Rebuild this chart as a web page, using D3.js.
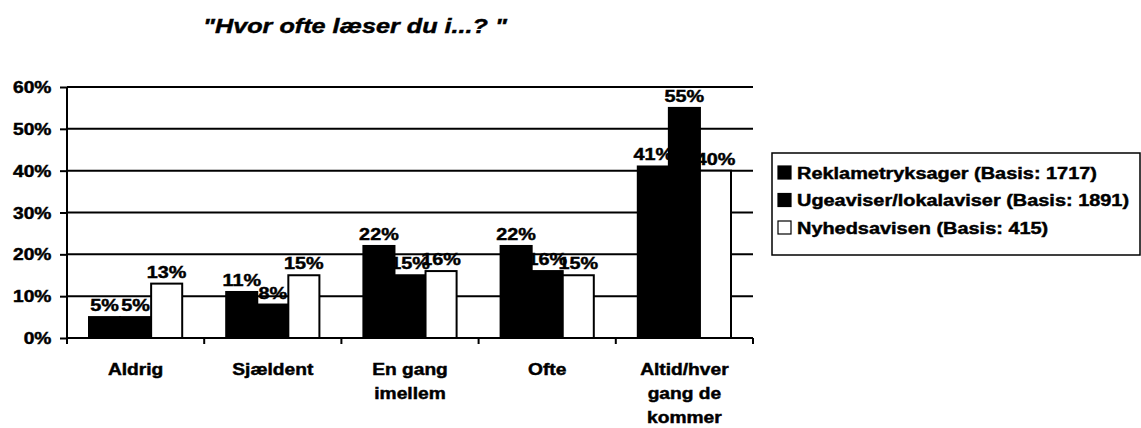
<!DOCTYPE html>
<html>
<head>
<meta charset="utf-8">
<script src="https://cdn.jsdelivr.net/npm/d3@7"></script>
<style>
  body { margin: 0; background: #fff; }
  svg { display: block; font-family: "Liberation Sans", Arial, sans-serif; font-weight: bold; }
  svg text { stroke: #000; stroke-width: 0.45px; }
</style>
</head>
<body>
<div id="chart"></div>
<script>
// data
const categories = [["Aldrig"], ["Sjældent"], ["En gang", "imellem"], ["Ofte"], ["Altid/hver", "gang de", "kommer"]]
const seriesNames = ["Reklametryksager (Basis: 1717)", "Ugeaviser/lokalaviser (Basis: 1891)", "Nyhedsavisen (Basis: 415)"]
const reklame = [5, 11, 22, 22, 41]
const ugeaviser = [5, 8, 15, 16, 55]
const nyheds = [13, 15, 16, 15, 40]
const yTicks = [0, 10, 20, 30, 40, 50, 60]
const fills = ["#000", "#000", "#fff"]

const W = 1141, H = 428
const sx = 1.2 // the source text looks stretched horizontally
const margin = { top: 87, left: 67, right: 388, bottom: 90 }
const width = W - margin.left - margin.right
const height = H - margin.top - margin.bottom

const svg = d3.select("#chart").append("svg").attr("width", W).attr("height", H)

// title
svg.append("text")
  .attr("transform", "translate(355,33) scale(" + sx + ",1)")
  .attr("text-anchor", "middle")
  .style("font-size", "21px")
  .style("font-style", "italic")
  .text("\"Hvor ofte læser du i...? \"")

const g = svg.append("g").attr("transform", "translate(" + margin.left + "," + margin.top + ")")

const x = d3.scaleBand().domain(d3.range(categories.length)).range([0, width])
const inner = d3.scaleBand().domain([0, 1, 2]).range([22, x.bandwidth() - 22])
const y = d3.scaleLinear().domain([0, 60]).range([height, 0])

// gridlines
g.selectAll(".grid").data(yTicks.slice(1)).enter().append("line")
  .attr("x1", 0).attr("x2", width)
  .attr("y1", d => y(d)).attr("y2", d => y(d))
  .attr("stroke", "#000").attr("stroke-width", 2)

const series = [reklame, ugeaviser, nyheds]
series.forEach((vals, s) => {
  g.selectAll(".bar" + s).data(vals).enter().append("rect")
    .attr("x", (d, i) => x(i) + inner(s))
    .attr("y", d => y(d))
    .attr("width", inner.bandwidth())
    .attr("height", d => height - y(d))
    .attr("fill", fills[s])
    .attr("stroke", "#000").attr("stroke-width", 2)
})

series.forEach((vals, s) => {
  g.selectAll(".lab" + s).data(vals).enter().append("text")
    .attr("transform", (d, i) => "translate(" + (x(i) + inner(s) + inner.bandwidth() / 2) + "," + (y(d) - 6) + ") scale(" + sx + ",1)")
    .attr("text-anchor", "middle")
    .style("font-size", "16.5px")
    .text(d => d + "%")
})

// y axis
const yAxis = g.append("g")
  .call(d3.axisLeft(y).tickValues(yTicks).tickSize(7).tickFormat(d => d + "%"))
yAxis.select(".domain").attr("stroke-width", 2).attr("d", "M0," + height + "V0")
yAxis.selectAll(".tick line").attr("stroke-width", 2)
yAxis.selectAll(".tick text")
  .attr("x", -13).attr("dy", "0.35em")
  .attr("transform", "scale(" + sx + ",1)")
  .style("font-size", "16px").attr("fill", "#000")

// x axis
const xAxis = g.append("g").attr("transform", "translate(0," + height + ")")
xAxis.append("line").attr("x1", 0).attr("x2", width).attr("stroke", "#000").attr("stroke-width", 2)
xAxis.selectAll(".xt").data(d3.range(categories.length + 1)).enter().append("line")
  .attr("x1", d => d * x.step()).attr("x2", d => d * x.step())
  .attr("y1", 0).attr("y2", 6)
  .attr("stroke", "#000").attr("stroke-width", 2)

const cat = xAxis.selectAll(".cat").data(categories).enter().append("text")
  .attr("transform", (d, i) => "translate(" + (x(i) + x.bandwidth() / 2) + ",37) scale(" + sx + ",1)")
  .attr("text-anchor", "middle")
  .style("font-size", "16px")
cat.selectAll("tspan").data(d => d).enter().append("tspan")
  .attr("x", 0).attr("y", (d, i) => i * 24)
  .text(d => d)

// legend
const lg = svg.append("g").attr("transform", "translate(772,153)")
lg.append("rect").attr("width", 368).attr("height", 102)
  .attr("fill", "#fff").attr("stroke", "#000").attr("stroke-width", 1.5)
const item = lg.selectAll(".item").data(seriesNames).enter().append("g")
  .attr("transform", (d, i) => "translate(6," + (20 + i * 27.5) + ")")
item.append("rect").attr("x", 0).attr("y", -7).attr("width", 13).attr("height", 13)
  .attr("fill", (d, i) => fills[i]).attr("stroke", "#000").attr("stroke-width", 1.2)
item.append("text")
  .attr("transform", "translate(19,0) scale(" + sx + ",1)")
  .attr("dy", "0.35em")
  .style("font-size", "16.6px")
  .text(d => d)
</script>
</body>
</html>
